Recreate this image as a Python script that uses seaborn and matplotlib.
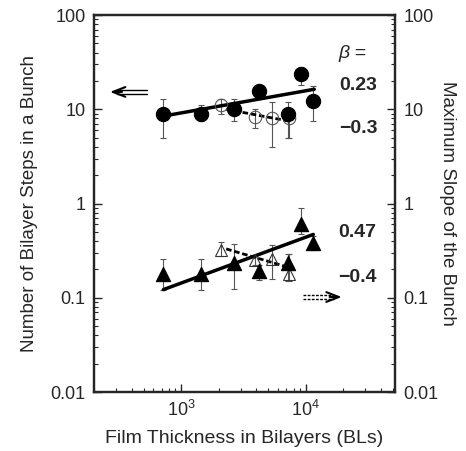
import numpy as np
import pandas as pd
import matplotlib
matplotlib.use("Agg")
import matplotlib.pyplot as plt
import seaborn as sns

# film thickness (BLs) for the filled symbols
thick = [720, 1450, 2670, 4240, 7230, 9200, 11500]
# number of bilayer steps in a bunch (filled circles)
steps = [8.9, 8.9, 10.0, 15.5, 8.9, 23.5, 12.2]
steps_lo = [5.0, 7.5, 7.5, 14.0, 5.0, 18.0, 7.5]
steps_hi = [12.8, 11.0, 12.8, 17.0, 12.0, 28.0, 17.6]
# maximum slope of the bunch (filled triangles)
slope = [0.18, 0.18, 0.235, 0.19, 0.235, 0.60, 0.38]
slope_lo = [0.12, 0.12, 0.125, 0.155, 0.15, 0.48, 0.32]
slope_hi = [0.26, 0.26, 0.37, 0.22, 0.29, 0.89, 0.45]

# open symbols
thick_open = [2100, 3900, 5400, 7400]
steps_open = [11.0, 8.2, 8.0, 8.0]
steps_open_lo = [8.8, 6.3, 4.0, 5.0]
steps_open_hi = [12.8, 10.0, 12.0, 9.2]
slope_open = [0.32, 0.25, 0.26, 0.18]
slope_open_lo = [0.28, 0.22, 0.16, 0.15]
slope_open_hi = [0.39, 0.28, 0.36, 0.29]

# power-law fits
fit_x = [770, 11700]
fit_steps = [8.6, 16.3]
fit_slope = [0.122, 0.47]
fit_x_open = [2300, 7300]
fit_steps_open = [10.0, 7.5]
fit_slope_open = [0.33, 0.21]

sns.set_style("ticks")
plt.rcParams["font.family"] = ["Liberation Sans", "DejaVu Sans"]
plt.rcParams["mathtext.fontset"] = "custom"
plt.rcParams["mathtext.rm"] = "Liberation Sans"
plt.rcParams["mathtext.default"] = "regular"

fig = plt.figure(figsize=(4.66, 4.51), dpi=100)
ax = fig.add_axes([0.2017, 0.1308, 0.6459, 0.8359])

ecol = "#555555"


def errbars(x, y, lo, hi):
    y = np.array(y)
    yerr = [y - np.array(lo), np.array(hi) - y]
    ax.errorbar(x, y, yerr=yerr, fmt="none", ecolor=ecol, elinewidth=0.8,
                capsize=2, capthick=0.8, zorder=2)


errbars(thick_open, steps_open, steps_open_lo, steps_open_hi)
errbars(thick_open, slope_open, slope_open_lo, slope_open_hi)
errbars(thick, steps, steps_lo, steps_hi)
errbars(thick, slope, slope_lo, slope_hi)

# fit lines
sns.lineplot(x=fit_x, y=fit_steps, color="black", lw=2.5, ax=ax, zorder=3)
sns.lineplot(x=thick[:1] + thick[-1:], y=fit_slope, color="black", lw=2.5, ax=ax, zorder=3)
ax.plot(fit_x_open, fit_steps_open, color="black", lw=2, ls=(0, (2, 1)), zorder=3)
ax.plot(fit_x_open, fit_slope_open, color="black", lw=2, ls=(0, (2, 1)), zorder=3)

# open symbols
ax.plot(thick_open, steps_open, "o", ms=9, mfc="none", mec=ecol, mew=0.8, zorder=4)
ax.plot(thick_open, slope_open, "^", ms=9, mfc="none", mec="#333333", mew=0.8, zorder=4)

# filled symbols
df = pd.DataFrame({"thick": thick, "steps": steps, "slope": slope})
sns.scatterplot(data=df, x="thick", y="steps", marker="o", s=105, color="black",
                edgecolor="black", ax=ax, zorder=5)
sns.scatterplot(data=df, x="thick", y="slope", marker="^", s=105, color="black",
                edgecolor="black", ax=ax, zorder=5)

ax.set_xscale("log")
ax.set_yscale("log")
ax.set_xlim(200, 52000)
ax.set_ylim(0.01, 100)

yt = [0.01, 0.1, 1, 10, 100]
ylabels = ["0.01", "0.1", "1", "10", "100"]
ax.set_yticks(yt)
ax.set_yticklabels(ylabels)
ax.set_xticks([1e3, 1e4])
ax.set_xticklabels(["$10^3$", "$10^4$"])
ax.set_xlabel("Film Thickness in Bilayers (BLs)", fontsize=14, labelpad=7)
ax.set_ylabel("Number of Bilayer Steps in a Bunch", fontsize=13.5, labelpad=9)

ax2 = ax.twinx()
ax2.set_yscale("log")
ax2.set_ylim(0.01, 100)
ax2.set_yticks(yt)
ax2.set_yticklabels(ylabels)
ax2.set_ylabel("Maximum Slope of the Bunch", fontsize=13.5, rotation=270, labelpad=13)

for a in (ax, ax2):
    a.tick_params(which="major", direction="in", length=6, width=1, labelsize=13, pad=6)
    a.tick_params(which="minor", direction="in", length=3, width=0.8)
    for s in a.spines.values():
        s.set_linewidth(1.6)
        s.set_visible(True)
ax.tick_params(axis="y", which="both", right=False)
ax.tick_params(axis="x", which="both", top=False)
ax2.tick_params(axis="x", which="both", top=False, bottom=False)

# beta annotations
tr = ax.transAxes
ax.text(0.857, 0.899, "β =", transform=tr, fontsize=14, style="italic",
        ha="center", va="center")
ax.text(0.877, 0.812, "0.23", transform=tr, fontsize=14, fontweight="bold",
        ha="center", va="center")
ax.text(0.877, 0.698, "\u22120.3", transform=tr, fontsize=14, fontweight="bold",
        ha="center", va="center")
ax.text(0.874, 0.422, "0.47", transform=tr, fontsize=14, fontweight="bold",
        ha="center", va="center")
ax.text(0.874, 0.305, "\u22120.4", transform=tr, fontsize=14, fontweight="bold",
        ha="center", va="center")

# double-shaft arrows pointing to the relevant axis
for y0, x0, x1, ls in [(0.796, 0.175, 0.053, "-"), (0.252, 0.694, 0.823, (0, (2, 1)))]:
    for dy in (-0.005, 0.005):
        ax.plot([x0, x1 + (0.025 if x1 < x0 else -0.025)], [y0 + dy, y0 + dy],
                transform=tr, color="black", lw=1, ls=ls, clip_on=False)
    ax.annotate("", xy=(x1, y0), xytext=(x1 + (0.04 if x1 < x0 else -0.04), y0),
                xycoords=tr, textcoords=tr,
                arrowprops=dict(arrowstyle="->,head_length=0.9,head_width=0.35",
                                color="black", lw=1.5, shrinkA=0, shrinkB=0))

fig.savefig("out.png", dpi=100)
